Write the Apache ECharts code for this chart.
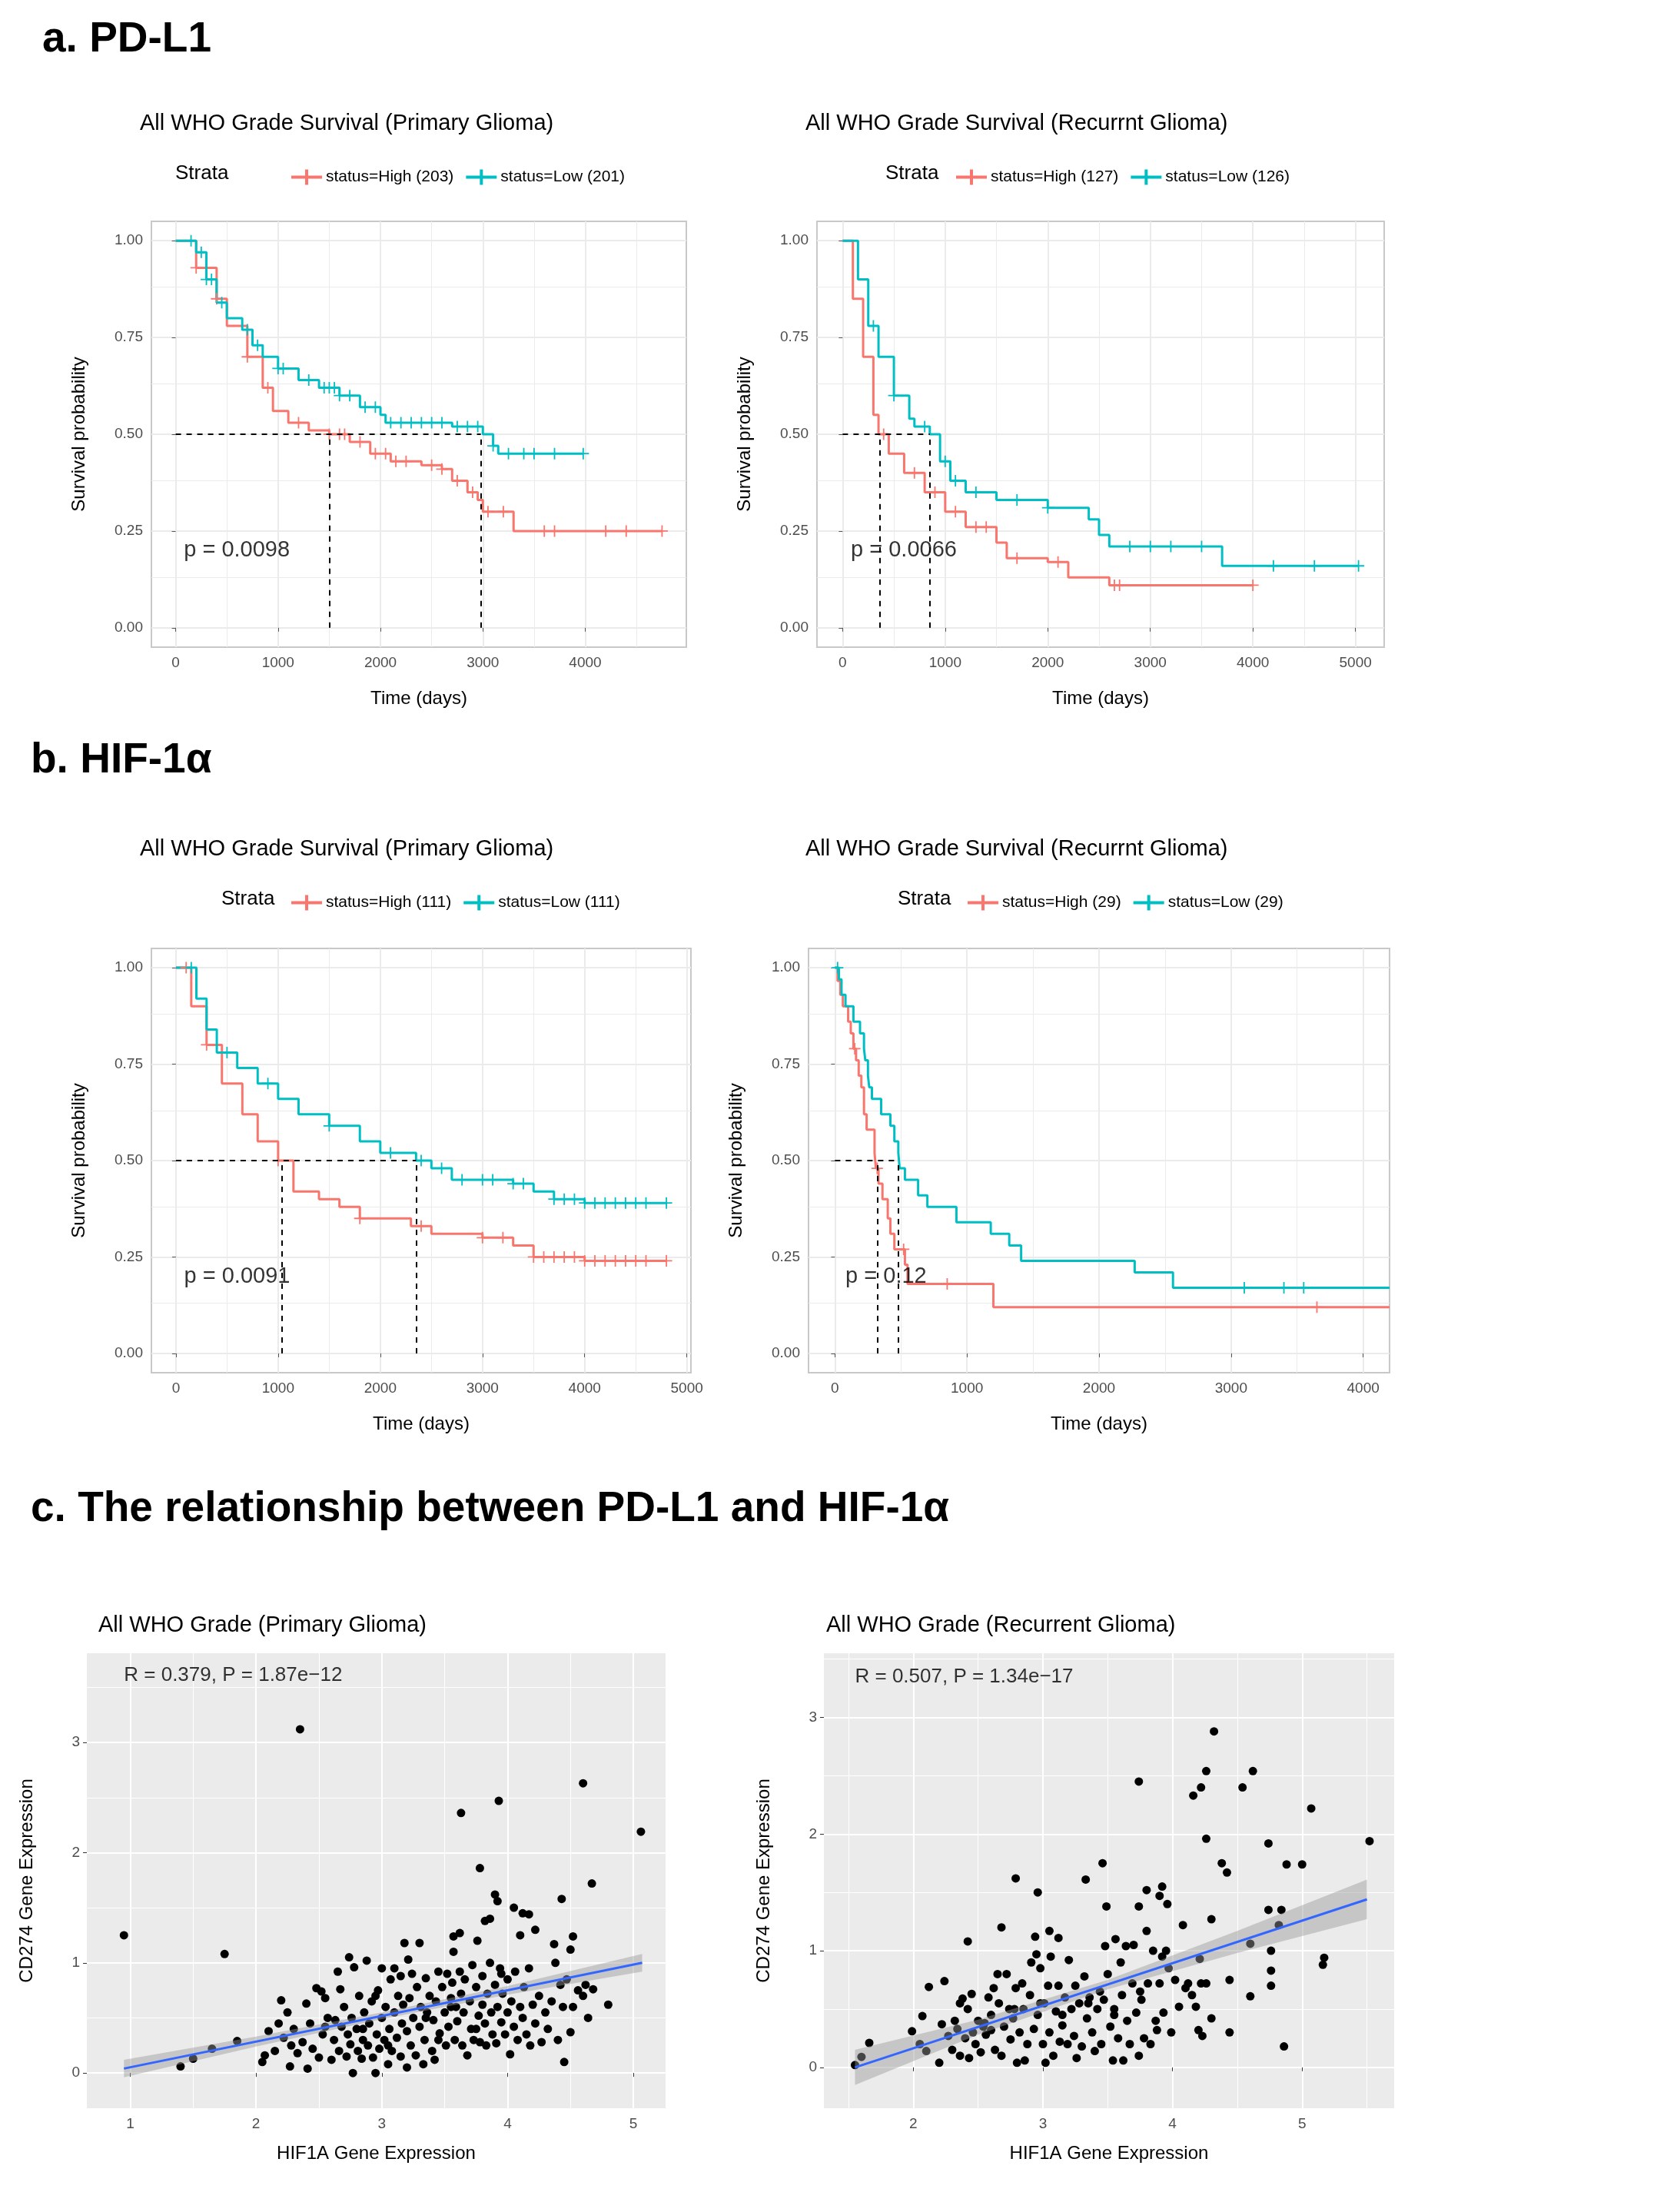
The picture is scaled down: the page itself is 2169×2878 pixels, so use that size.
<!DOCTYPE html>
<html>
<head>
<meta charset="utf-8">
<script src="https://cdn.jsdelivr.net/npm/echarts@6/dist/echarts.min.js"></script>
<style>
  html, body { margin: 0; padding: 0; background: #fff; }
  #chart { width: 2169px; height: 2878px; }
</style>
</head>
<body>
<div id="chart"></div>
<script>
// ---- data ----
// Kaplan-Meier steps: [time (days), survival]
var aLeftHigh = [[0,1],[200,0.93],[400,0.85],[500,0.78],[700,0.7],[850,0.62],[950,0.56],[1100,0.53],[1300,0.51],[1500,0.5],[1700,0.48],[1900,0.45],[2100,0.43],[2400,0.42],[2600,0.41],[2700,0.38],[2850,0.35],[2950,0.33],[3000,0.3],[3300,0.25]];
var aLeftLow = [[0,1],[200,0.97],[300,0.9],[400,0.84],[500,0.8],[650,0.77],[750,0.73],[850,0.7],[1000,0.67],[1200,0.64],[1400,0.62],[1600,0.6],[1800,0.57],[2000,0.55],[2050,0.53],[2700,0.52],[3000,0.5],[3100,0.47],[3150,0.45]];
var aLeftHighCens = [200,400,700,900,1200,1500,1600,1650,1800,1950,2050,2150,2250,2500,2600,2750,2900,3050,3200,3600,3700,4200,4400,4750];
var aLeftLowCens = [150,250,300,350,450,700,800,1000,1050,1300,1450,1500,1550,1600,1700,1850,1950,2100,2200,2300,2400,2500,2600,2750,2850,2950,3100,3250,3400,3500,3700,3980];
var aLeftEnd = [4750, 3980];

var aRightHigh = [[0,1],[100,0.85],[200,0.7],[300,0.55],[350,0.5],[450,0.45],[600,0.4],[800,0.35],[1000,0.3],[1200,0.26],[1500,0.22],[1600,0.18],[2000,0.17],[2200,0.13],[2600,0.11]];
var aRightLow = [[0,1],[150,0.9],[250,0.78],[350,0.7],[500,0.6],[650,0.54],[700,0.52],[850,0.5],[950,0.43],[1050,0.38],[1200,0.35],[1500,0.33],[2000,0.31],[2400,0.28],[2500,0.24],[2600,0.21],[3700,0.16]];
var aRightHighCens = [400,700,900,1100,1300,1400,1700,2100,2650,2700,4000];
var aRightLowCens = [300,500,800,1000,1100,1300,1700,2000,2800,3000,3200,3500,4200,4600,5030];
var aRightEnd = [4000, 5030];

var bLeftHigh = [[0,1],[150,0.9],[300,0.8],[450,0.7],[650,0.62],[800,0.55],[1000,0.5],[1150,0.42],[1400,0.4],[1600,0.38],[1800,0.35],[2300,0.33],[2500,0.31],[3000,0.3],[3300,0.28],[3500,0.25],[4000,0.24]];
var bLeftLow = [[0,1],[200,0.92],[300,0.84],[400,0.78],[600,0.74],[800,0.7],[1000,0.66],[1200,0.62],[1500,0.59],[1800,0.55],[2000,0.52],[2350,0.5],[2500,0.48],[2700,0.45],[3300,0.44],[3500,0.42],[3700,0.4],[4000,0.39]];
var bLeftHighCens = [100,300,1000,1800,2400,3000,3200,3500,3600,3700,3800,3900,4000,4100,4200,4300,4400,4500,4600,4800];
var bLeftLowCens = [150,500,900,1500,2100,2400,2600,2800,3000,3100,3300,3400,3700,3800,3900,4000,4100,4200,4300,4400,4500,4600,4800];
var bLeftEnd = [4800, 4800];

var bRightHigh = [[0,1],[20,0.966],[40,0.93],[60,0.9],[100,0.86],[120,0.83],[140,0.79],[160,0.76],[180,0.72],[200,0.69],[220,0.62],[240,0.58],[300,0.52],[310,0.48],[330,0.44],[360,0.4],[400,0.35],[420,0.31],[450,0.27],[530,0.23],[550,0.18],[1200,0.12]];
var bRightLow = [[0,1],[30,0.97],[50,0.93],[80,0.9],[140,0.86],[190,0.83],[220,0.79],[230,0.76],[250,0.72],[260,0.69],[280,0.66],[350,0.62],[420,0.59],[450,0.55],[480,0.52],[490,0.48],[530,0.45],[630,0.41],[700,0.38],[920,0.34],[1180,0.31],[1320,0.28],[1410,0.24],[2270,0.21],[2560,0.17]];
var bRightHighCens = [150,320,520,850,3650];
var bRightLowCens = [20,3100,3400,3550];
var bRightEnd = [4200, 4200];

// median survival lines (days)
var aLeftMedian = [1500, 2980];
var aRightMedian = [360, 850];
var bLeftMedian = [1040, 2350];
var bRightMedian = [320, 480];

var pValues = ['p = 0.0098', 'p = 0.0066', 'p = 0.0091', 'p = 0.12'];
var strataNames = [
  ['status=High (203)', 'status=Low (201)'],
  ['status=High (127)', 'status=Low (126)'],
  ['status=High (111)', 'status=Low (111)'],
  ['status=High (29)', 'status=Low (29)']
];
var kmTicks = [0, 1000, 2000, 3000, 4000, 5000];
var survTicks = [0, 0.25, 0.5, 0.75, 1];

// scatter: [HIF1A, CD274]
var cLeftPts = [[0.95,1.25],[1.75,1.08],[2.35,3.12],[3.63,2.36],[3.93,2.47],[4.6,2.63],[5.06,2.19],[3.78,1.86],[4.67,1.72],[3.9,1.62],[3.92,1.56],[4.43,1.58],[4.05,1.5],[4.12,1.45],[4.17,1.44],[3.82,1.38],[3.86,1.4],[1.4,0.06],[1.5,0.13],[1.65,0.22],[1.85,0.29],[4.22,1.3],[4.52,1.24],[4.5,1.12],[4.37,1.17],[4.1,1.25],[3.62,1.27],[3.57,1.24],[3.18,1.18],[3.3,1.18],
[2.05,0.1],[2.07,0.16],[2.1,0.38],[2.15,0.2],[2.18,0.45],[2.2,0.66],[2.22,0.32],[2.25,0.55],[2.27,0.06],[2.28,0.25],[2.3,0.4],[2.33,0.18],[2.37,0.28],[2.4,0.63],[2.41,0.04],[2.43,0.45],[2.45,0.22],[2.48,0.77],[2.5,0.14],[2.52,0.74],[2.53,0.35],[2.55,0.68],[2.57,0.5],[2.6,0.12],[2.62,0.3],[2.63,0.48],[2.65,0.92],[2.66,0.2],[2.67,0.76],[2.68,0.42],[2.7,0.6],[2.72,0.15],[2.73,0.35],[2.74,1.05],[2.75,0.26],[2.76,0.5],[2.77,0.0],[2.78,0.96],[2.8,0.4],[2.81,0.2],[2.82,0.7],[2.84,0.13],[2.85,0.3],[2.86,0.55],[2.88,1.02],[2.89,0.25],[2.9,0.45],[2.92,0.65],[2.93,0.14],[2.95,0.0],[2.96,0.35],[2.97,0.75],[2.98,0.22],[3.0,0.5],[3.0,0.95],[3.02,0.3],[3.03,0.6],[3.05,0.08],[3.06,0.4],[3.07,0.85],[3.08,0.2],[3.1,0.55],[3.1,0.95],[3.12,0.32],[3.13,0.7],[3.15,0.15],[3.16,0.45],[3.17,0.62],[3.2,0.05],[3.2,0.38],[3.21,1.03],[3.22,0.68],[3.23,0.25],[3.24,0.9],[3.25,0.5],[3.27,0.16],[3.28,0.78],[3.3,0.42],[3.31,0.6],[3.33,0.08],[3.34,0.3],[3.35,0.86],[3.36,0.55],[3.38,0.7],[3.4,0.2],[3.41,0.48],[3.42,0.12],[3.43,0.65],[3.45,0.92],[3.46,0.36],[3.48,0.78],[3.5,0.55],[3.51,0.25],[3.52,0.9],[3.53,0.42],[3.55,0.68],[3.56,0.82],[3.57,1.1],[3.58,0.3],[3.59,0.6],[3.6,0.47],[3.62,0.92],[3.63,0.72],[3.64,0.25],[3.65,0.55],[3.66,0.85],[3.68,0.16],[3.7,0.65],[3.71,0.4],[3.72,0.98],[3.73,0.3],[3.75,0.78],[3.76,1.2],[3.77,0.52],[3.78,0.28],[3.8,0.88],[3.8,0.62],[3.82,0.45],[3.83,0.25],[3.84,0.72],[3.86,1.0],[3.87,0.55],[3.88,0.35],[3.9,0.8],[3.91,0.27],[3.92,0.6],[3.94,0.95],[3.95,0.46],[3.96,0.72],[3.98,0.35],[4.0,0.85],[4.0,0.55],[4.02,0.17],[4.03,0.65],[4.05,0.42],[4.06,0.92],[4.08,0.3],[4.1,0.6],[4.12,0.5],[4.13,0.78],[4.15,0.35],[4.17,0.95],[4.18,0.25],[4.2,0.62],[4.22,0.45],[4.25,0.7],[4.27,0.28],[4.3,0.55],[4.32,0.4],[4.35,0.65],[4.38,1.0],[4.4,0.3],[4.42,0.8],[4.44,0.6],[4.45,0.1],[4.47,0.85],[4.5,0.37],[4.52,0.6],[4.56,0.75],[4.6,0.7],[4.62,0.8],[4.64,0.5],[4.68,0.76],[4.8,0.62],[2.55,0.42],[2.95,0.7],[3.15,0.88],[3.35,0.5],[3.55,0.6],[3.75,0.4],[3.95,0.9],[3.05,0.25],[2.85,0.4],[3.45,0.3]];
var cRightPts = [[4.32,2.88],[4.26,2.54],[4.62,2.54],[3.74,2.45],[4.22,2.4],[4.16,2.33],[4.54,2.4],[5.07,2.22],[4.26,1.96],[5.52,1.94],[4.74,1.92],[3.46,1.75],[4.38,1.75],[4.42,1.67],[4.88,1.74],[5.0,1.74],[2.79,1.62],[3.33,1.61],[2.96,1.5],[3.8,1.52],[3.92,1.55],[3.9,1.47],[3.96,1.4],[3.74,1.38],[3.49,1.38],[4.74,1.35],[4.84,1.35],[4.3,1.27],[4.82,1.22],[2.68,1.2],[3.05,1.17],[3.12,1.11],[2.42,1.08],[2.94,1.12],[4.6,1.06],[5.17,0.94],[5.16,0.88],[4.76,1.0],[4.76,0.83],[4.76,0.7],[4.86,0.18],[4.6,0.61],[4.44,0.75],[4.44,0.3],[1.55,0.02],[1.6,0.09],[1.66,0.21],
[1.99,0.31],[2.05,0.2],[2.07,0.44],[2.1,0.14],[2.12,0.69],[2.2,0.04],[2.22,0.37],[2.24,0.74],[2.27,0.27],[2.3,0.15],[2.32,0.4],[2.34,0.33],[2.36,0.1],[2.38,0.59],[2.4,0.25],[2.42,0.5],[2.43,0.08],[2.45,0.63],[2.46,0.3],[2.48,0.2],[2.5,0.4],[2.52,0.13],[2.54,0.35],[2.56,0.28],[2.58,0.6],[2.6,0.45],[2.62,0.68],[2.63,0.15],[2.65,0.8],[2.66,0.55],[2.68,0.1],[2.7,0.35],[2.72,0.8],[2.74,0.5],[2.75,0.24],[2.77,0.42],[2.79,0.68],[2.8,0.04],[2.82,0.3],[2.84,0.72],[2.85,0.5],[2.86,0.06],[2.88,0.2],[2.9,0.62],[2.91,0.9],[2.93,0.33],[2.95,0.97],[2.96,0.45],[2.98,0.85],[3.0,0.2],[3.01,0.55],[3.02,0.04],[3.04,0.7],[3.05,0.3],[3.06,0.95],[3.08,0.1],[3.1,0.48],[3.12,0.7],[3.13,0.22],[3.15,0.36],[3.17,0.6],[3.19,0.2],[3.2,0.92],[3.22,0.5],[3.24,0.27],[3.26,0.08],[3.28,0.55],[3.3,0.18],[3.32,0.78],[3.34,0.42],[3.36,0.6],[3.38,0.3],[3.4,0.14],[3.42,0.5],[3.44,0.65],[3.45,0.2],[3.47,0.58],[3.48,1.04],[3.5,0.8],[3.52,0.35],[3.54,0.06],[3.55,0.5],[3.56,1.1],[3.58,0.25],[3.6,0.9],[3.61,0.62],[3.62,0.06],[3.64,1.04],[3.65,0.4],[3.67,0.2],[3.69,0.72],[3.7,1.05],[3.72,0.47],[3.74,0.1],[3.76,0.58],[3.78,0.25],[3.8,1.17],[3.81,0.72],[3.83,0.2],[3.85,1.0],[3.87,0.4],[3.88,0.32],[3.9,0.72],[3.92,0.95],[3.93,0.47],[3.95,1.0],[3.97,0.85],[3.99,0.3],[4.02,0.75],[4.05,0.52],[4.08,1.22],[4.1,0.68],[4.12,0.72],[4.15,0.62],[4.18,0.52],[4.2,0.32],[4.21,0.93],[4.22,0.72],[4.23,0.27],[4.26,0.72],[4.3,0.42],[2.36,0.55],[2.55,0.38],[2.78,0.5],[3.15,0.45],[3.35,0.55],[3.55,0.45],[3.75,0.65],[2.98,0.55],[3.25,0.7],[2.6,0.32]];
// fit line and confidence band: [x, lower, upper]
var cLeftFit = [[0.95,0.04],[5.07,1.0]];
var cLeftBand = [[0.95,-0.04,0.12],[2,0.24,0.33],[3,0.49,0.55],[4,0.71,0.79],[5.07,0.92,1.08]];
var cRightFit = [[1.55,0.0],[5.5,1.44]];
var cRightBand = [[1.55,-0.15,0.15],[2.5,0.28,0.41],[3.5,0.67,0.75],[4.5,0.98,1.17],[5.5,1.27,1.61]];
var corrText = ['R = 0.379, P = 1.87e\u221212', 'R = 0.507, P = 1.34e\u221217'];

// ---- layout ----
var S = 2169 / 1190;
var FONT = 'Liberation Sans';
var RED = '#F8766D', TEAL = '#00BFC4';
var PLUS = 'path://M-1.2,-10H1.2V-1.2H10V1.2H1.2V10H-1.2V1.2H-10V-1.2H-1.2Z';
var LEGICON = 'path://M0,8.8H24V11.2H0Z M10.8,4H13.2V16H10.8Z';

function px(v) { return Math.round(v * S); }
function survAt(steps, t) {
  var s = 1;
  for (var i = 0; i < steps.length; i++) if (steps[i][0] <= t) s = steps[i][1];
  return s;
}

var boxes = [
  [108, 158, 490, 462], [583, 158, 988, 462],
  [108, 677, 493, 980], [577, 677, 992, 980],
  [62, 1180, 475, 1505], [588, 1180, 995, 1505]
];
var kmRanges = [[-237, 4987], [-250, 5280], [-240, 5040], [-200, 4200]];
var scRanges = [[0.655, 5.256, -0.32, 3.81], [1.31, 5.71, -0.35, 3.55]];

var grids = boxes.map(function (b, i) {
  return {
    left: px(b[0]), top: px(b[1]), width: px(b[2] - b[0]), height: px(b[3] - b[1]),
    show: true,
    borderColor: i < 4 ? '#c8c8c8' : 'transparent',
    borderWidth: i < 4 ? 2 : 0,
    backgroundColor: i < 4 ? '#fff' : '#EBEBEB'
  };
});

var xAxes = [], yAxes = [], series = [], legends = [], graphics = [];
var labelStyle = { color: '#4d4d4d', fontSize: px(10.5), fontFamily: FONT };
var nameStyle = { color: '#000', fontSize: px(13), fontFamily: FONT };

function gridLines(gi, xs, ys, xm, ym, color, wMaj, wMin) {
  var d = [];
  xm.forEach(function (v) { d.push({ xAxis: v, lineStyle: { width: wMin } }); });
  ym.forEach(function (v) { d.push({ yAxis: v, lineStyle: { width: wMin } }); });
  xs.forEach(function (v) { d.push({ xAxis: v, lineStyle: { width: wMaj } }); });
  ys.forEach(function (v) { d.push({ yAxis: v, lineStyle: { width: wMaj } }); });
  series.push({
    type: 'line', xAxisIndex: gi, yAxisIndex: gi, data: [], z: 0, silent: true,
    markLine: { silent: true, symbol: 'none', label: { show: false }, z: 0,
      lineStyle: { color: color, type: 'solid' }, data: d, animation: false }
  });
}

var kmSets = [
  [aLeftHigh, aLeftLow, aLeftHighCens, aLeftLowCens, aLeftEnd, aLeftMedian],
  [aRightHigh, aRightLow, aRightHighCens, aRightLowCens, aRightEnd, aRightMedian],
  [bLeftHigh, bLeftLow, bLeftHighCens, bLeftLowCens, bLeftEnd, bLeftMedian],
  [bRightHigh, bRightLow, bRightHighCens, bRightLowCens, bRightEnd, bRightMedian]
];
var titles = ['All WHO Grade Survival (Primary Glioma)', 'All WHO Grade Survival (Recurrnt Glioma)',
  'All WHO Grade Survival (Primary Glioma)', 'All WHO Grade Survival (Recurrnt Glioma)'];

kmSets.forEach(function (set, i) {
  var r = kmRanges[i];
  var ticksX = kmTicks.filter(function (v) { return v <= r[1]; });
  xAxes.push({
    type: 'value', gridIndex: i, min: r[0], max: r[1],
    splitLine: { show: false }, axisLine: { show: false },
    axisTick: { show: true, customValues: ticksX, length: px(3), lineStyle: { color: '#555' } },
    axisLabel: Object.assign({ customValues: ticksX, margin: px(6),
      formatter: function (v) { return String(v); } }, labelStyle),
    name: 'Time (days)', nameLocation: 'middle', nameGap: px(30), nameTextStyle: nameStyle
  });
  yAxes.push({
    type: 'value', gridIndex: i, min: -0.05, max: 1.05,
    splitLine: { show: false }, axisLine: { show: false },
    axisTick: { show: true, customValues: survTicks, length: px(3), lineStyle: { color: '#555' } },
    axisLabel: Object.assign({ customValues: survTicks, margin: px(6),
      formatter: function (v) { return v.toFixed(2); } }, labelStyle),
    name: 'Survival probability', nameLocation: 'middle', nameGap: px(45), nameTextStyle: nameStyle
  });
  var minorX = ticksX.map(function (v) { return v + 500; }).filter(function (v) { return v < r[1]; });
  gridLines(i, ticksX, survTicks, minorX, [0.125, 0.375, 0.625, 0.875], '#ebebeb', px(1), px(0.5));

  var cols = [RED, TEAL];
  [0, 1].forEach(function (k) {
    var steps = set[k];
    var data = steps.concat([[set[4][k], steps[steps.length - 1][1]]]);
    series.push({
      name: strataNames[i][k], type: 'line', xAxisIndex: i, yAxisIndex: i,
      step: 'end', data: data, showSymbol: false, z: 3,
      lineStyle: { color: cols[k], width: px(1.8) }, itemStyle: { color: cols[k] }
    });
    series.push({
      name: 'cens' + i + k, type: 'scatter', xAxisIndex: i, yAxisIndex: i, z: 4,
      symbol: PLUS, symbolSize: px(8), itemStyle: { color: cols[k], opacity: 1 },
      data: set[2 + k].map(function (t) { return [t, survAt(steps, t)]; })
    });
  });
  var med = set[5];
  series.push({
    type: 'line', xAxisIndex: i, yAxisIndex: i, data: [], z: 5,
    markLine: { silent: true, symbol: 'none', label: { show: false }, animation: false,
      lineStyle: { color: '#000', type: [px(4), px(4)], width: px(1.1) },
      data: [
        [{ coord: [0, 0.5] }, { coord: [med[1], 0.5] }],
        [{ coord: [med[0], 0] }, { coord: [med[0], 0.5] }],
        [{ coord: [med[1], 0] }, { coord: [med[1], 0.5] }]
      ] }
  });
  series.push({
    type: 'scatter', xAxisIndex: i, yAxisIndex: i, symbolSize: 0, z: 6, silent: true,
    data: [[80, 0.2]],
    label: { show: true, position: 'right', distance: 0, formatter: pValues[i],
      fontSize: px(16), fontFamily: FONT, color: '#000' }
  });
  var titleX = i % 2 === 0 ? 100 : 575;
  var titleY = i < 2 ? 90 : 608;
  graphics.push({ type: 'text', left: px(titleX), top: px(titleY - 10),
    style: { text: titles[i], font: px(16) + 'px ' + FONT, fill: '#000' } });
  var strataX = [125, 632, 158, 641][i];
  var legX = [205, 680, 205, 688][i];
  var legY = i < 2 ? 125 : 643;
  graphics.push({ type: 'text', left: px(strataX), top: px(legY - 8),
    style: { text: 'Strata', font: px(14) + 'px ' + FONT, fill: '#000' } });
  legends.push({
    data: strataNames[i], left: px(legX), top: px(legY - 7),
    itemWidth: px(22), itemHeight: px(12), itemGap: px(9), icon: LEGICON,
    textStyle: { fontSize: px(11.5), fontFamily: FONT, color: '#000' }
  });
});

[[cLeftPts, cLeftFit, cLeftBand], [cRightPts, cRightFit, cRightBand]].forEach(function (set, j) {
  var gi = 4 + j, r = scRanges[j];
  var xt = [1, 2, 3, 4, 5].filter(function (v) { return v >= r[0]; });
  var yt = [0, 1, 2, 3];
  xAxes.push({
    type: 'value', gridIndex: gi, min: r[0], max: r[1],
    splitLine: { show: false }, axisLine: { show: false },
    axisTick: { show: true, customValues: xt, length: px(3), lineStyle: { color: '#333' } },
    axisLabel: Object.assign({ customValues: xt, margin: px(6) }, labelStyle),
    name: 'HIF1A Gene Expression', nameLocation: 'middle', nameGap: px(26), nameTextStyle: nameStyle
  });
  yAxes.push({
    type: 'value', gridIndex: gi, min: r[2], max: r[3],
    splitLine: { show: false }, axisLine: { show: false },
    axisTick: { show: true, customValues: yt, length: px(3), lineStyle: { color: '#333' } },
    axisLabel: Object.assign({ customValues: yt, margin: px(5) }, labelStyle),
    name: 'CD274 Gene Expression', nameLocation: 'middle', nameGap: px(36), nameTextStyle: nameStyle
  });
  var xm = [0.5, 1.5, 2.5, 3.5, 4.5, 5.5].filter(function (v) { return v > r[0] && v < r[1]; });
  gridLines(gi, xt, yt, xm, [-0.5, 0.5, 1.5, 2.5, 3.5].filter(function (v) { return v > r[2] && v < r[3]; }),
    '#ffffff', px(1.3), px(0.6));
  series.push({
    type: 'scatter', xAxisIndex: gi, yAxisIndex: gi, data: set[0], z: 10,
    symbolSize: px(6), itemStyle: { color: '#000', opacity: 1 }
  });
  var band = set[2];
  series.push({
    type: 'custom', xAxisIndex: gi, yAxisIndex: gi, data: [0], z: 11, silent: true,
    renderItem: function (params, api) {
      var pts = band.map(function (p) { return api.coord([p[0], p[2]]); });
      for (var k = band.length - 1; k >= 0; k--) pts.push(api.coord([band[k][0], band[k][1]]));
      return { type: 'polygon', shape: { points: pts }, style: { fill: 'rgba(153,153,153,0.45)' } };
    }
  });
  series.push({
    type: 'line', xAxisIndex: gi, yAxisIndex: gi, data: set[1], z: 12, showSymbol: false,
    lineStyle: { color: '#3366FF', width: px(1.6) }
  });
  series.push({
    type: 'scatter', xAxisIndex: gi, yAxisIndex: gi, symbolSize: 0, z: 13, silent: true,
    data: [[j === 0 ? 0.95 : 1.55, r[3] - 0.2]],
    label: { show: true, position: 'right', distance: 0, formatter: corrText[j],
      fontSize: px(14), fontFamily: FONT, color: '#000' }
  });
  graphics.push({ type: 'text', left: px(j === 0 ? 70 : 590), top: px(1152),
    style: { text: j === 0 ? 'All WHO Grade (Primary Glioma)' : 'All WHO Grade (Recurrent Glioma)',
      font: px(16) + 'px ' + FONT, fill: '#000' } });
});

graphics.push({ type: 'text', left: px(30), top: px(13),
  style: { text: 'a. PD-L1', font: 'bold ' + px(30) + 'px ' + FONT, fill: '#000' } });
graphics.push({ type: 'text', left: px(22), top: px(528),
  style: { text: 'b. HIF-1\u03b1', font: 'bold ' + px(30) + 'px ' + FONT, fill: '#000' } });
graphics.push({ type: 'text', left: px(22), top: px(1062),
  style: { text: 'c. The relationship between PD-L1 and HIF-1\u03b1', font: 'bold ' + px(30) + 'px ' + FONT, fill: '#000' } });

var chart = echarts.init(document.getElementById('chart'));
chart.setOption({
  animation: false,
  backgroundColor: '#fff',
  grid: grids,
  xAxis: xAxes,
  yAxis: yAxes,
  legend: legends,
  graphic: graphics,
  series: series
});
</script>
</body>
</html>
